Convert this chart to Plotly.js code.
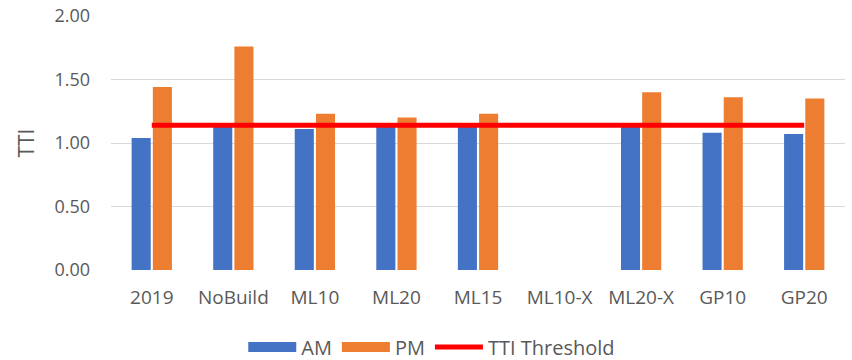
<!DOCTYPE html>
<html>
<head>
<meta charset="utf-8">
<script src="https://cdn.plot.ly/plotly-3.0.1.min.js"></script>
<style>html,body{margin:0;padding:0;background:#fff;}#chart{width:852px;height:360px;}</style>
</head>
<body>
<div id="chart"></div>
<script>
const categories = ["2019", "NoBuild", "ML10", "ML20", "ML15", "ML10-X", "ML20-X", "GP10", "GP20"];
const amValues = [1.04, 1.13, 1.11, 1.13, 1.13, null, 1.13, 1.08, 1.07];
const pmValues = [1.44, 1.76, 1.23, 1.20, 1.23, null, 1.40, 1.36, 1.35];
const thresholdValue = 1.14;
const thresholdValues = categories.map(() => thresholdValue);
const yTicks = [0, 0.5, 1.0, 1.5, 2.0];

const fontFam = "Open Sans, Liberation Sans, sans-serif";
const amColor = "#4472C4", pmColor = "#ED7D31", thrColor = "#FF0000";
const traces = [
  {type: "bar", name: "AM", x: categories, y: amValues, marker: {color: amColor}, showlegend: false},
  {type: "bar", name: "PM", x: categories, y: pmValues, marker: {color: pmColor}, showlegend: false},
  // legend swatches (wide rectangles like the reference)
  {type: "scatter", mode: "lines", name: "AM", x: [categories[0]], y: [null], line: {color: amColor, width: 10}},
  {type: "scatter", mode: "lines", name: "PM", x: [categories[0]], y: [null], line: {color: pmColor, width: 10}},
  {type: "scatter", mode: "lines", name: "TTI Threshold", x: categories, y: thresholdValues,
   line: {color: thrColor, width: 5}}
];
const layout = {
  width: 852, height: 360,
  margin: {l: 111, r: 7, t: 16, b: 90, autoexpand: false},
  paper_bgcolor: "#fff", plot_bgcolor: "#fff",
  font: {family: fontFam, size: 16, color: "#595959"},
  barmode: "group", bargap: 0.48, bargroupgap: 0.1,
  showlegend: true,
  legend: {orientation: "h", x: 0.437, xanchor: "center", yref: "container", y: 0.09, yanchor: "top",
           font: {size: 20, color: "#595959"}, itemwidth: 48, traceorder: "normal"},
  xaxis: {type: "category", showgrid: false, zeroline: false, showline: false, ticks: "", automargin: false,
          ticklabelstandoff: 14, tickfont: {size: 19, color: "#595959"}},
  yaxis: {range: [0, 2], tickvals: yTicks, tickformat: ".2f", showgrid: true, gridcolor: "#d9d9d9",
          gridwidth: 1, zeroline: false, showline: false, ticks: "", ticklabelstandoff: 20, automargin: false,
          tickfont: {size: 18, color: "#595959"},
          title: {text: "TTI", font: {size: 21, color: "#595959"}, standoff: 14}}
};
Plotly.newPlot("chart", traces, layout, {displayModeBar: false, staticPlot: true});
</script>
</body>
</html>
